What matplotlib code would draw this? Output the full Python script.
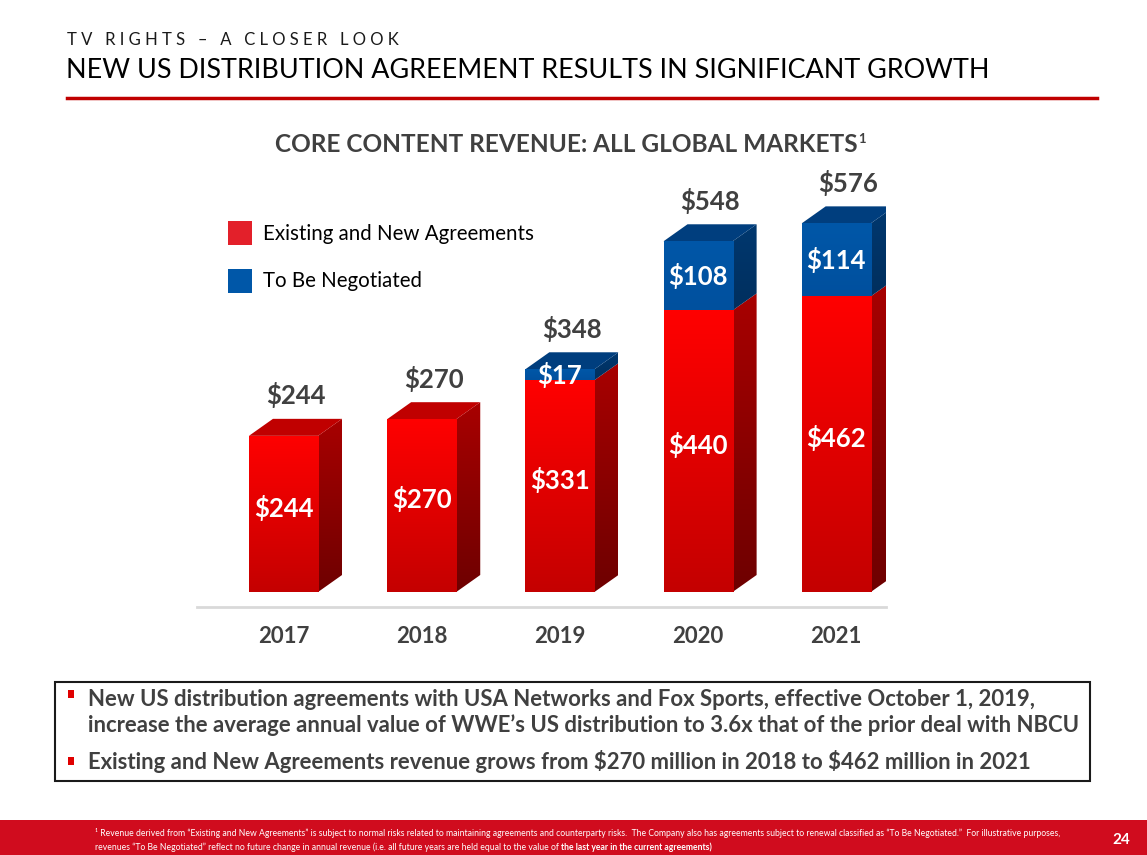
import numpy as np
import matplotlib.pyplot as plt
from matplotlib.patches import Polygon, Rectangle
from matplotlib.colors import LinearSegmentedColormap
from matplotlib.lines import Line2D

# data (USD millions)
years = ['2017', '2018', '2019', '2020', '2021']
existing = [244, 270, 331, 440, 462]
to_negotiate = [0, 0, 17, 108, 114]
totals = [244, 270, 348, 548, 576]

W, H = 1147, 855
plt.rcParams['font.family'] = ['Lato', 'DejaVu Sans']
DARK = '#404040'

fig = plt.figure(figsize=(W / 100, H / 100), dpi=100)
r = fig.canvas.get_renderer()


def fx(x):
    return x / W


def fy(y):
    return 1 - y / H


# header
spaced = '   '.join(' '.join(w) for w in 'TV RIGHTS – A CLOSER LOOK'.split())
fig.text(fx(67), fy(40), spaced, fontsize=12, color='#1a1a1a', va='center')
fig.text(fx(66), fy(71), 'NEW US DISTRIBUTION AGREEMENT RESULTS IN SIGNIFICANT GROWTH',
         fontsize=19.4, color='black', va='center')
fig.add_artist(Line2D([fx(67), fx(1097)], [fy(98), fy(98)], color='#C00000', lw=2.5))

# chart title
ct = fig.text(fx(275), fy(145), 'CORE CONTENT REVENUE: ALL GLOBAL MARKETS', fontsize=17.6,
              fontweight='bold', color=DARK, va='center')
cb = ct.get_window_extent(renderer=r)
fig.text(cb.x1 / W + 1 / W, fy(139), '1', fontsize=9.5, fontweight='bold', color=DARK, va='center')

# legend
fig.add_artist(Rectangle((fx(228), fy(245)), 24 / W, 24 / H, transform=fig.transFigure,
                         facecolor='#E3202A', edgecolor='none'))
fig.add_artist(Rectangle((fx(228), fy(293)), 24 / W, 24 / H, transform=fig.transFigure,
                         facecolor='#0057A8', edgecolor='none'))
fig.text(fx(263), fy(234), 'Existing and New Agreements', fontsize=14.8, color='black', va='center')
fig.text(fx(263), fy(281), 'To Be Negotiated', fontsize=14.8, color='black', va='center')

# chart axes
ax_left, ax_w, ax_bottom, ax_h = 197, 689, 592, 432
ax = fig.add_axes([fx(ax_left), fy(ax_bottom), ax_w / W, ax_h / H])
xlim = (-0.626, 4.36)
ylim = (0, 675)
ax.set_xlim(*xlim)
ax.set_ylim(*ylim)
ax.axis('off')

ddx = 24 * (xlim[1] - xlim[0]) / ax_w
ddy = 17 * (ylim[1] - ylim[0]) / ax_h
bw = 0.5
x = np.arange(len(years))

grad = np.linspace(0, 1, 256).reshape(-1, 1)


def shade(patch, c_top, c_bot, z):
    xs, ys = zip(*patch.get_path().transformed(patch.get_patch_transform()).vertices)
    cmap = LinearSegmentedColormap.from_list('g', [c_bot, c_top])
    im = ax.imshow(grad, extent=[min(xs), max(xs), min(ys), max(ys)], origin='lower',
                   aspect='auto', cmap=cmap, zorder=z, interpolation='bilinear')
    im.set_clip_path(patch)


def side_top(xc, y0, y1, side_cols, top_col, z, top=True):
    xr = xc + bw / 2
    xl = xc - bw / 2
    side = Polygon([(xr, y0), (xr + ddx, y0 + ddy), (xr + ddx, y1 + ddy), (xr, y1)],
                   facecolor='none', edgecolor='none', zorder=z)
    ax.add_patch(side)
    shade(side, side_cols[0], side_cols[1], z)
    if top:
        ax.add_patch(Polygon([(xl, y1), (xl + ddx, y1 + ddy), (xr + ddx, y1 + ddy), (xr, y1)],
                             facecolor=top_col, edgecolor='none', zorder=z))


red_bars = ax.bar(x, existing, bw, color='#F00000', zorder=3)
blue_bars = ax.bar(x, to_negotiate, bw, bottom=existing, color='#0054A6', zorder=3)

for i, (b, rb) in enumerate(zip(red_bars, blue_bars)):
    shade(b, '#FF0000', '#C40000', 3)
    side_top(x[i], 0, existing[i], ('#A80000', '#6E0000'), '#C00000', 2,
             top=to_negotiate[i] == 0)
    if to_negotiate[i] > 0:
        shade(rb, '#0057A8', '#00509E', 3)
        side_top(x[i], existing[i], totals[i], ('#00386F', '#002F5E'), '#003E7E', 2)

# value labels
for i in range(len(years)):
    ax.annotate(f'${totals[i]}', xy=(x[i] + ddx / 2, totals[i] + ddy), xytext=(0, 17),
                textcoords='offset points', ha='center', va='center', fontsize=18.5,
                fontweight='bold', color=DARK)
    ax.text(x[i], existing[i] / 2 + 10, f'${existing[i]}', ha='center', va='center',
            fontsize=18.5, fontweight='bold', color='white', zorder=5)
    if to_negotiate[i] > 0:
        ax.text(x[i], existing[i] + to_negotiate[i] / 2, f'${to_negotiate[i]}', ha='center',
                va='center', fontsize=18.5, fontweight='bold', color='white', zorder=5)
    ax.annotate(years[i], xy=(x[i], 0), xycoords=('data', 'axes fraction'), xytext=(0, -32),
                textcoords='offset points', ha='center', va='center', fontsize=16,
                fontweight='bold', color=DARK, annotation_clip=False)

fig.add_artist(Line2D([fx(197), fx(886)], [fy(607), fy(607)], color='#D9D9D9', lw=2))

# bullet box
fig.add_artist(Rectangle((fx(55), fy(781)), 1035 / W, 99 / H, transform=fig.transFigure,
                         facecolor='none', edgecolor='#1a1a1a', lw=1.5))
for by in (694, 761):
    fig.add_artist(Rectangle((fx(68), fy(by + 4)), 6 / W, 8 / H, transform=fig.transFigure,
                             facecolor='#E00000', edgecolor='none'))
bullets = [
    (700, 'New US distribution agreements with USA Networks and Fox Sports, effective October 1, 2019,'),
    (725, 'increase the average annual value of WWE’s US distribution to 3.6x that of the prior deal with NBCU'),
    (761, 'Existing and New Agreements revenue grows from \\$270 million in 2018 to \\$462 million in 2021'),
]
for by, txt in bullets:
    fig.text(fx(88), fy(by), txt, fontsize=15.9, fontweight='bold', color=DARK, va='center')

# footer
fig.add_artist(Rectangle((0, 0), 1, 35 / H, transform=fig.transFigure,
                         facecolor='#D00C1E', edgecolor='none'))
fig.text(fx(95), fy(833), '¹ Revenue derived from “Existing and New Agreements” is subject to normal risks '
         'related to maintaining agreements and counterparty risks.  The Company also has agreements '
         'subject to renewal classified as “To Be Negotiated.”  For illustrative purposes,',
         fontsize=6.2, color='white', va='center')
t2 = fig.text(fx(95), fy(847), 'revenues “To Be Negotiated” reflect no future change in annual revenue '
              '(i.e. all future years are held equal to the value of ',
              fontsize=6.2, color='white', va='center')
bb = t2.get_window_extent(renderer=r)
fig.text(bb.x1 / W, fy(847), 'the last year in the current agreements)', fontsize=6.2,
         fontweight='bold', color='white', va='center')
fig.text(fx(1121), fy(840), '24', fontsize=11, fontweight='bold', color='white',
         ha='center', va='center')

fig.savefig('out.png', dpi=100)
